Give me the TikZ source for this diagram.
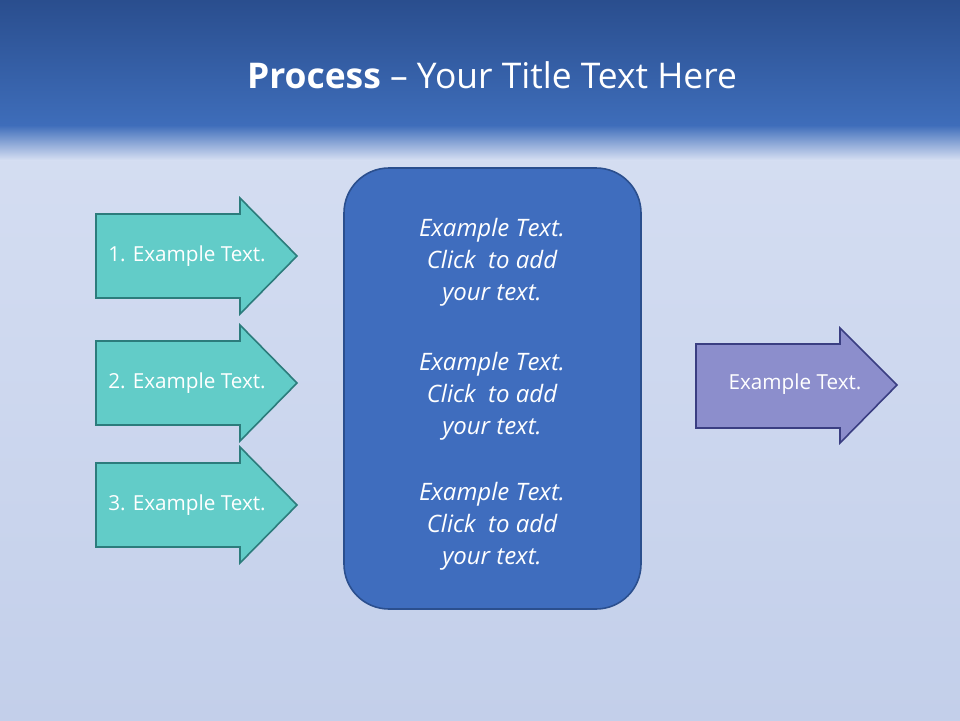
\documentclass[tikz,border=0pt]{standalone}
\usepackage{fontspec}
\setmainfont{Open Sans}
\definecolor{topA}{HTML}{2A4E8E}
\definecolor{topB}{HTML}{3E6DBA}
\definecolor{bgA}{HTML}{D5DEF2}
\definecolor{bgB}{HTML}{C3CFEA}
\definecolor{tealF}{HTML}{62CCC8}
\definecolor{tealD}{HTML}{2C7C7C}
\definecolor{boxF}{HTML}{3F6DBE}
\definecolor{boxD}{HTML}{2B4F8E}
\definecolor{purF}{HTML}{8C8ECC}
\definecolor{purD}{HTML}{3A3E82}
\tikzset{
 arrowshape/.style={line width=1.6pt,line join=miter},
 lbl/.style={text=white,font=\fontsize{20.7}{24}\selectfont},
 boxtxt/.style={text=white,font=\fontsize{24}{32}\selectfont\itshape,align=center}
}
\begin{document}
\begin{tikzpicture}[x=1pt,y=-1pt]
\useasboundingbox (0,0) rectangle (960,720);
\shade[top color=bgA,bottom color=bgB] (0,120) rectangle (960,720);
\shade[top color=topA,bottom color=topB] (0,0) rectangle (960,125);
\shade[top color=topB,bottom color=bgA] (0,125) rectangle (960,160);
\node[text=white,font=\fontsize{35.4}{40}\selectfont] (title) at (492,75) {\textbf{Process} -- Your Title Text Here};
% teal arrows
\foreach \n/\y in {1/256,2/383,3/505}{
 \draw[arrowshape,fill=tealF,draw=tealD] (96,\y-42) -- (240,\y-42) -- (240,\y-58) -- (297,\y) -- (240,\y+58) -- (240,\y+42) -- (96,\y+42) -- cycle;
 \node[lbl] (a\n) at (187,\y) {\n. Example Text.};
}
% central box
\draw[line width=1.6pt,fill=boxF,draw=boxD,rounded corners=45pt] (344,168) rectangle (641,609);
\node[boxtxt] (t1) at (492,262) {Example Text.\\Click\ \ to add\\your text.};
\node[boxtxt] (t2) at (492,396) {Example Text.\\Click\ \ to add\\your text.};
\node[boxtxt] (t3) at (492,526) {Example Text.\\Click\ \ to add\\your text.};
% right arrow
\draw[arrowshape,fill=purF,draw=purD] (696,344) -- (840,344) -- (840,328) -- (897,385) -- (840,443) -- (840,428) -- (696,428) -- cycle;
\node[lbl] (out) at (795,384) {Example Text.};
\end{tikzpicture}
\end{document}
